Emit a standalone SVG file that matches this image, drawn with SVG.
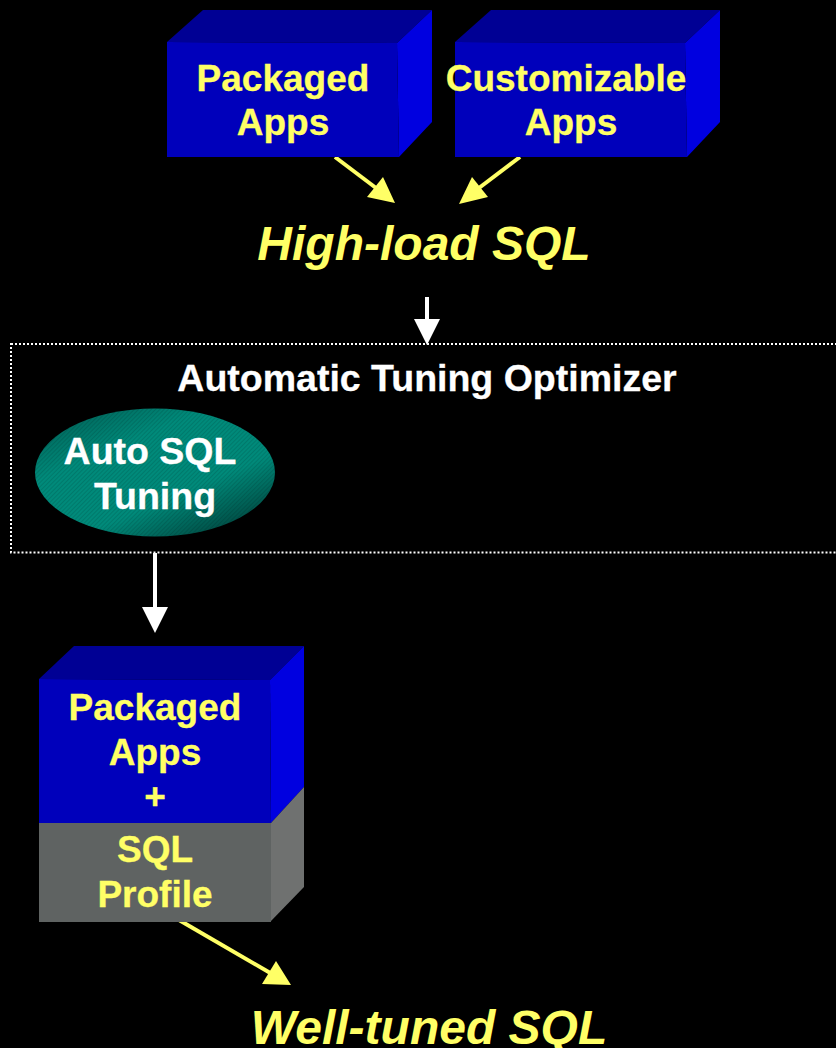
<svg xmlns="http://www.w3.org/2000/svg" width="836" height="1048" viewBox="0 0 836 1048">
<style>
text{font-family:"Liberation Sans",Arial,sans-serif;font-weight:bold;text-anchor:middle}
.l{font-size:37px;fill:#ffff66;stroke:#ffff66;stroke-width:0.3px}
.w{font-size:37.500px;fill:#fff;stroke:#fff;stroke-width:0.3px}
.i{font-size:48px;font-style:italic;fill:#ffff66}
.front{fill:#0000bb}.top{fill:#000094}.side{fill:#0000e0}
.yl{stroke:#ffff66;stroke-width:4;fill:none}
.wl{stroke:#fff;stroke-width:4;fill:none}
</style>
<defs>
<linearGradient id="teal" x1="0.1" y1="0" x2="0.9" y2="1">
<stop offset="0" stop-color="#005f55"/><stop offset="0.3" stop-color="#008a7a"/><stop offset="0.65" stop-color="#008a7a"/><stop offset="1" stop-color="#003a34"/>
</linearGradient>
<pattern id="hatch" width="3" height="3" patternUnits="userSpaceOnUse" patternTransform="rotate(-45)">
<rect width="3" height="1" fill="#000" fill-opacity="0.12"/>
</pattern>
</defs>
<rect width="836" height="1048" fill="#000"/>
<g id="connectors">
<path class="yl" d="M335 157L380 191"/><polygon fill="#ffff66" points="395,203 367,197 383,177"/>
<path class="yl" d="M520 157L475 191"/><polygon fill="#ffff66" points="459,204 472,177 488,197"/>
<path class="wl" d="M427 297V320"/><polygon fill="#fff" points="427,345 414,319 440,319"/>
<path class="wl" d="M155 553V608"/><polygon fill="#fff" points="155,633 142,607 168,607"/>
<path class="yl" d="M179 920L272 974"/><polygon fill="#ffff66" points="291,985 262,984 276,961"/>
</g>
<g id="packaged-apps">
<polygon class="top" points="167,42 203,10 432,10 397,43"/>
<polygon class="side" points="397,43 432,10 432,122 399,157"/>
<polygon class="front" points="167,42 397,43 399,157 167,157"/>
<text class="l" x="283" y="91">Packaged</text>
<text class="l" x="283" y="135">Apps</text>
</g>
<g id="customizable-apps">
<polygon class="top" points="455,42 491,10 720,10 685,43"/>
<polygon class="side" points="685,43 720,10 720,122 687,157"/>
<polygon class="front" points="455,42 685,43 687,157 455,157"/>
<text class="l" x="566" y="91">Customizable</text>
<text class="l" x="571" y="135">Apps</text>
</g>
<g id="high-load-sql"><text class="i" x="424" y="260">High-load SQL</text></g>
<g id="optimizer">
<rect x="11" y="344" width="830" height="208.500" fill="none" stroke="#fff" stroke-width="2" stroke-dasharray="2 2"/>
<text class="w" x="427" y="391">Automatic Tuning Optimizer</text>
</g>
<g id="auto-sql-tuning">
<ellipse cx="155" cy="472.500" rx="120" ry="64" fill="url(#teal)"/>
<ellipse cx="155" cy="472.500" rx="120" ry="64" fill="url(#hatch)"/>
<text class="w" x="150" y="464">Auto SQL</text>
<text class="w" x="155" y="509">Tuning</text>
</g>
<g id="packaged-apps-profile">
<polygon class="top" points="39,679 74,646 304,646 270,680"/>
<polygon class="side" points="270,680 304,646 304,787 271,823"/>
<polygon fill="#6f7170" points="271,823 304,787 304,887 271,921"/>
<polygon class="front" points="39,679 270,680 271,823 39,823"/>
<rect x="39" y="823" width="232" height="99" fill="#5f6362"/>
<text class="l" x="155" y="720">Packaged</text>
<text class="l" x="155" y="765">Apps</text>
<text class="l" x="155" y="809">+</text>
<text class="l" x="155" y="862">SQL</text>
<text class="l" x="155" y="907">Profile</text>
</g>
<g id="well-tuned-sql"><text class="i" x="429" y="1044">Well-tuned SQL</text></g>
</svg>
